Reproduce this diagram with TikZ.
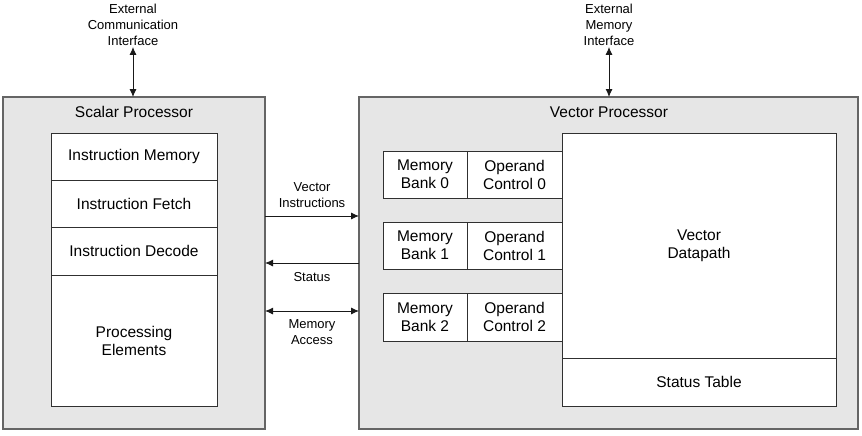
\documentclass[tikz,border=0pt]{standalone}
\usepackage{fontspec}
\setmainfont{Liberation Sans}
\usepackage{tikz}
\usetikzlibrary{arrows.meta,positioning}

\definecolor{procfill}{HTML}{E6E6E6}
\definecolor{procline}{HTML}{656565}
\definecolor{boxline}{HTML}{303030}

\begin{document}
\begin{tikzpicture}[x=1pt,y=-1pt]
			\tikzstyle{Proc}	= [draw=procline, line width=1.5pt, fill=procfill, anchor=north west, inner sep=0pt, outer sep=0pt]
			\tikzstyle{Unit}	= [draw=boxline, line width=0.8pt, fill=white, anchor=north west, inner sep=0pt, outer sep=0pt, align=center, font=\fontsize{15.5}{18}\selectfont]
			\tikzstyle{Title}	= [inner sep=0pt, font=\fontsize{15.5}{18}\selectfont]
			\tikzstyle{Note}	= [inner sep=0pt, align=center, font=\fontsize{13}{16}\selectfont]
			\tikzstyle{Link}	= [draw=black!90, line width=0.9pt]
			\tikzstyle{Tip}		= [-{Latex[length=8pt,width=7pt]}]
			\tikzstyle{TipTip}	= [{Latex[length=8pt,width=7pt]}-{Latex[length=8pt,width=7pt]}]

			\useasboundingbox (0,0) rectangle (862,436);

			% processors
			\node (scalar) at (3,97) [Proc][minimum width=262pt, minimum height=332pt] {};
			\node (vector) at (359,97) [Proc][minimum width=499pt, minimum height=332pt] {};
			\node (scalartitle) at (134,112) [Title] {Scalar Processor};
			\node (vectortitle) at (609,112) [Title] {Vector Processor};

			% scalar stack
			\node (imem) at (51,133) [Unit][minimum width=166pt, minimum height=47pt] {Instruction Memory};
			\node (ifetch) at (51,180) [Unit][minimum width=166pt, minimum height=47pt] {Instruction Fetch};
			\node (idecode) at (51,227) [Unit][minimum width=166pt, minimum height=48pt] {Instruction Decode};
			\node (pe) at (51,275) [Unit][minimum width=166pt, minimum height=131pt] {Processing\\Elements};

			% memory banks and operand control
			\node (mb0) at (383,151) [Unit][minimum width=84pt, minimum height=47pt] {Memory\\Bank 0};
			\node (oc0) at (467,151) [Unit][minimum width=95pt, minimum height=47pt] {Operand\\Control 0};
			\node (mb1) at (383,222) [Unit][minimum width=84pt, minimum height=47pt] {Memory\\Bank 1};
			\node (oc1) at (467,222) [Unit][minimum width=95pt, minimum height=47pt] {Operand\\Control 1};
			\node (mb2) at (383,293) [Unit][minimum width=84pt, minimum height=48pt] {Memory\\Bank 2};
			\node (oc2) at (467,293) [Unit][minimum width=95pt, minimum height=48pt] {Operand\\Control 2};

			% datapath
			\node (datapath) at (562,133) [Unit][minimum width=274pt, minimum height=225pt] {Vector\\Datapath};
			\node (status) at (562,358) [Unit][minimum width=274pt, minimum height=48pt] {Status Table};

			% external interfaces
			\node (extcomm) at (133,25) [Note] {External\\Communication\\Interface};
			\node (extmem) at (609,25) [Note] {External\\Memory\\Interface};
			\draw [TipTip] (extcomm.south) ++(0,1) coordinate (ec) (ec) -- (ec |- scalar.north) [Link];
			\draw [TipTip] (extmem.south) ++(0,1) coordinate (em) (em) -- (em |- vector.north) [Link];

			% links between processors
			\node (vinstr) at (312,195) [Note] {Vector\\Instructions};
			\node (stat) at (312,277) [Note] {Status};
			\node (memacc) at (312,332) [Note] {Memory\\Access};
			\draw [Tip] (scalar.east |- 0,216) -- (vector.west |- 0,216) [Link];
			\draw [Tip] (vector.west |- 0,263) -- (scalar.east |- 0,263) [Link];
			\draw [TipTip] (scalar.east |- 0,311) -- (vector.west |- 0,311) [Link];
		\end{tikzpicture}
\end{document}
